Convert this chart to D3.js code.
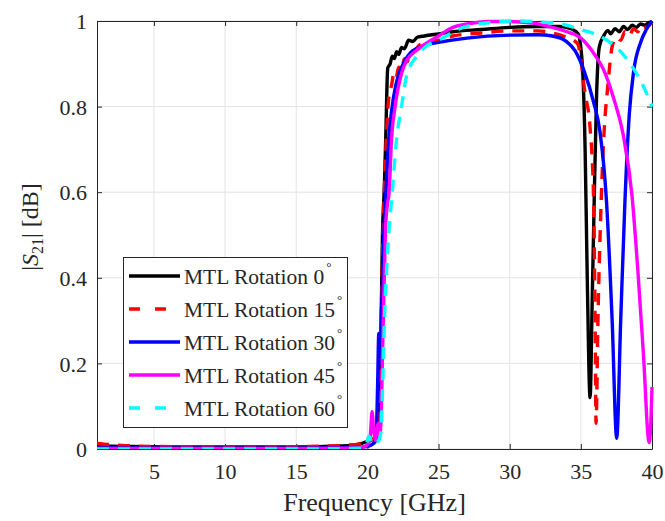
<!DOCTYPE html>
<html><head><meta charset="utf-8">
<script src="https://cdn.jsdelivr.net/npm/d3@7"></script>
<style>body{margin:0;background:#fff}svg{display:block}svg text{font-family:"Liberation Serif","Times New Roman",serif !important;fill:#262626}</style>
</head><body><svg id="c" width="665" height="521"></svg>
<script>
const xTicks = [5,10,15,20,25,30,35,40];
const yTicks = [0,0.2,0.4,0.6,0.8,1];
const yTickLabels = ["0","0.2","0.4","0.6","0.8","1"];
const seriesNames = ["MTL Rotation 0","MTL Rotation 15","MTL Rotation 30","MTL Rotation 45","MTL Rotation 60"];
const seriesColors = ["#000000","#ff0000","#0000ff","#ff00ff","#00ffff"];
const seriesDashed = [false,true,false,false,true];

const rot0 = [[1,0.007],[3,0.006],[6,0.005],[10,0.005],[15,0.005],[18,0.007],[19,0.009],[19.6,0.013],[20.0,0.018],[20.4,0.022],[20.7,0.03],[20.85,0.15],[20.95,0.27],[21.06,0.5],[21.2,0.62],[21.3,0.74],[21.43,0.89],[21.6,0.9],[21.75,0.918],[21.9,0.912],[22.05,0.928],[22.2,0.922],[22.4,0.938],[22.6,0.935],[22.9,0.955],[23.2,0.952],[23.5,0.962],[24.0,0.965],[25,0.97],[26,0.975],[28,0.98],[30,0.985],[32,0.987],[33.5,0.987],[34.3,0.982],[34.8,0.97],[35.1,0.9],[35.3,0.7],[35.45,0.4],[35.65,0.12],[35.8,0.35],[35.95,0.6],[36.1,0.82],[36.3,0.94],[36.6,0.965],[36.9,0.978],[37.1,0.97],[37.4,0.982],[37.7,0.975],[38,0.987],[38.3,0.98],[38.6,0.99],[38.9,0.985],[39.2,0.993],[39.5,0.99],[39.8,0.997],[40,0.998]];
const rot15 = [[1,0.013],[2,0.01],[3,0.008],[5,0.006],[8,0.005],[12,0.005],[16,0.006],[18,0.008],[19.5,0.012],[20.2,0.02],[20.6,0.03],[20.8,0.08],[20.95,0.27],[21.1,0.5],[21.3,0.7],[21.5,0.82],[21.7,0.85],[21.85,0.875],[22.0,0.865],[22.2,0.892],[22.4,0.885],[22.6,0.912],[22.8,0.905],[23.0,0.928],[23.3,0.93],[23.7,0.945],[24.3,0.95],[25,0.955],[26,0.965],[28,0.972],[30,0.977],[32,0.977],[33,0.972],[34,0.962],[34.5,0.955],[34.8,0.945],[35.3,0.83],[35.65,0.75],[35.9,0.58],[36.0,0.3],[36.07,0.06],[36.2,0.3],[36.4,0.55],[36.6,0.72],[36.9,0.85],[37.2,0.94],[37.5,0.962],[37.8,0.955],[38.1,0.975],[38.4,0.965],[38.7,0.982],[39.0,0.975],[39.3,0.99],[39.6,0.985],[40,0.998]];
const rot30 = [[1,0.003],[5,0.002],[10,0.002],[15,0.002],[19,0.003],[19.8,0.005],[20.3,0.01],[20.6,0.02],[20.72,0.15],[20.8,0.27],[20.9,0.2],[21.0,0.32],[21.15,0.5],[21.3,0.6],[21.5,0.72],[21.7,0.79],[22.0,0.85],[22.2,0.875],[22.6,0.905],[23,0.925],[24,0.943],[25,0.95],[27,0.96],[30,0.967],[32,0.968],[33,0.965],[34,0.952],[34.6,0.93],[35.2,0.886],[35.9,0.81],[36.35,0.74],[36.8,0.58],[37.2,0.3],[37.52,0.025],[37.8,0.3],[38.1,0.58],[38.4,0.78],[38.7,0.88],[39.2,0.95],[39.6,0.98],[40,1.0]];
const rot45 = [[1,0.001],[5,0.001],[10,0.001],[15,0.001],[19,0.002],[19.7,0.005],[20.0,0.01],[20.2,0.03],[20.33,0.087],[20.45,0.04],[20.57,0.02],[20.68,0.05],[20.76,0.06],[20.85,0.03],[20.95,0.06],[21.05,0.2],[21.15,0.35],[21.27,0.51],[21.4,0.57],[21.53,0.6],[21.69,0.72],[21.95,0.8],[22.4,0.878],[22.8,0.91],[23.4,0.93],[24.1,0.947],[25,0.965],[26,0.985],[27,0.993],[28.5,0.999],[30,0.999],[31,0.997],[32,0.993],[33,0.985],[34,0.975],[35,0.96],[36,0.92],[36.6,0.886],[37.3,0.82],[38,0.73],[38.6,0.59],[39.0,0.42],[39.4,0.22],[39.8,0.015],[39.9,0.05],[40,0.145]];
const rot60 = [[1,0.0],[5,0.0],[10,0.0],[15,0.0],[19.5,0.002],[19.9,0.008],[20.1,0.03],[20.25,0.02],[20.4,0.01],[20.6,0.015],[20.8,0.02],[20.95,0.04],[21.05,0.12],[21.2,0.3],[21.48,0.49],[21.76,0.605],[22.04,0.72],[22.4,0.8],[22.74,0.87],[23.4,0.915],[24.1,0.94],[25,0.955],[26.5,0.982],[28.8,0.997],[30.5,1.0],[32,0.998],[33.6,0.993],[35,0.98],[36.6,0.96],[37.75,0.93],[38.95,0.875],[39.5,0.84],[40,0.80]];
const seriesData = [rot0, rot15, rot30, rot45, rot60];

const FONT = '"Liberation Serif","Times New Roman",serif';
const svg = d3.select("#c");
const L = 97, R = 652, T = 21, B = 449;
const x = d3.scaleLinear().domain([1,40]).range([L,R]);
const y = d3.scaleLinear().domain([0,1]).range([B,T]);
const axisCol = "#262626";

// grid
svg.append("g").selectAll("line").data(xTicks).join("line")
  .attr("x1", d=>x(d)).attr("x2", d=>x(d)).attr("y1", T).attr("y2", B)
  .attr("stroke", "#e3e3e3").attr("stroke-width", 1);
svg.append("g").selectAll("line").data(yTicks).join("line")
  .attr("y1", d=>y(d)).attr("y2", d=>y(d)).attr("x1", L).attr("x2", R)
  .attr("stroke", "#e3e3e3").attr("stroke-width", 1);

// axes
const xa = svg.append("g").attr("transform", `translate(0,${B})`)
  .call(d3.axisBottom(x).tickValues(xTicks).tickSizeInner(-5).tickSizeOuter(0).tickPadding(22));
const ya = svg.append("g").attr("transform", `translate(${L},0)`)
  .call(d3.axisLeft(y).tickValues(yTicks).tickFormat((d,i)=>yTickLabels[i]).tickSizeInner(-5).tickSizeOuter(0).tickPadding(10));
const xt = svg.append("g").attr("transform", `translate(0,${T})`)
  .call(d3.axisTop(x).tickValues(xTicks).tickSizeInner(-5).tickSizeOuter(0).tickFormat(""));
const yr = svg.append("g").attr("transform", `translate(${R},0)`)
  .call(d3.axisRight(y).tickValues(yTicks).tickSizeInner(-5).tickSizeOuter(0).tickFormat(""));
[xa,ya,xt,yr].forEach(g=>{
  g.attr("font-family", FONT);
  g.selectAll("path").attr("stroke", axisCol).attr("stroke-width", 1);
  g.selectAll("line").attr("stroke", axisCol);
  g.selectAll("text").attr("font-size", 22).style("font-family", FONT).attr("fill", axisCol);
});
xa.selectAll("text").attr("dy", "0.35em");
ya.selectAll("text").attr("dy", "0.35em");

// clip
svg.append("clipPath").attr("id","clp").append("rect").attr("x",L).attr("y",T-3).attr("width",R-L+3).attr("height",B-T+3);

const line = d3.line().x(d=>x(d[0])).y(d=>y(d[1])).curve(d3.curveMonotoneX);
const plot = svg.append("g").attr("clip-path","url(#clp)");
seriesData.forEach((data,i)=>{
  plot.append("path").datum(data).attr("d", line)
    .attr("fill","none").attr("stroke", seriesColors[i]).attr("stroke-width", 3.4)
    .attr("stroke-linejoin","round")
    .attr("stroke-dasharray", seriesDashed[i] ? "12,9" : null);
});

// labels
svg.append("text").attr("x", (L+R)/2).attr("y", 511).attr("text-anchor","middle")
  .attr("font-size", 26).style("font-family", FONT).text("Frequency [GHz]");
const yl = svg.append("text").attr("transform","translate(38,227) rotate(-90)").attr("text-anchor","middle").attr("font-size",24).style("font-family", FONT);
yl.append("tspan").text("|");
yl.append("tspan").attr("font-style","italic").text("S");
yl.append("tspan").attr("font-size",16).attr("dy",5).text("21");
yl.append("tspan").attr("dy",-5).text("| [dB]");

// legend
const lg = svg.append("g");
lg.append("rect").attr("x",123.5).attr("y",257.5).attr("width",224).attr("height",170)
  .attr("fill","#fff").attr("stroke",axisCol).attr("stroke-width",1);
seriesNames.forEach((name,i)=>{
  const cy = 276 + i*33;
  lg.append("line").attr("x1",129).attr("x2",180).attr("y1",cy).attr("y2",cy)
    .attr("stroke",seriesColors[i]).attr("stroke-width",3.4)
    .attr("stroke-dasharray", seriesDashed[i] ? "11,15" : null);
  const t = lg.append("text").attr("x",184).attr("y",cy+8).attr("font-size",21.5).style("font-family", FONT).attr("fill","#000");
  t.append("tspan").text(name);
  t.append("tspan").attr("dx",2).attr("dy",-13).attr("font-size",13).text("°");
});
</script></body></html>
